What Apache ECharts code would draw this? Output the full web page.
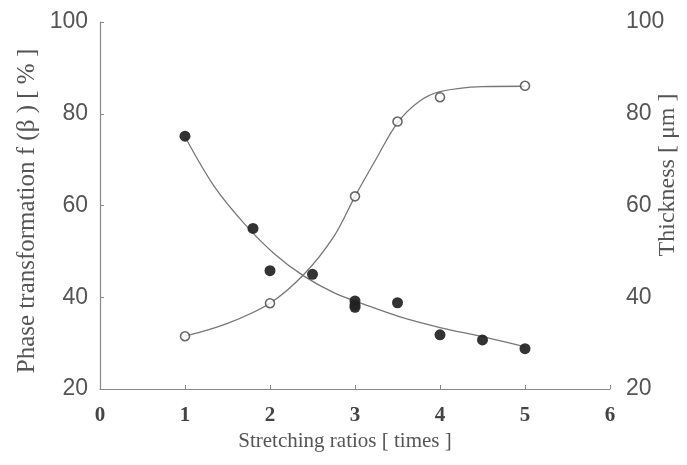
<!DOCTYPE html>
<html>
<head>
<meta charset="utf-8">
<script src="https://cdn.jsdelivr.net/npm/echarts@6/dist/echarts.min.js"></script>
<style>
  html, body { margin: 0; padding: 0; background: #ffffff; }
  #chart { width: 687px; height: 465px; }
</style>
</head>
<body>
<div id="chart"></div>
<script>
// Axis ticks
const xTicks = [0, 1, 2, 3, 4, 5, 6];
const yTicks = [20, 40, 60, 80, 100];

// Phase transformation f(β) [%] — measured points (open circles)
const phaseX = [1, 2, 3, 3.5, 4, 5];
const phaseY = [31.5, 38.7, 62, 78.3, 83.6, 86.1];

// Phase transformation — drawn fit curve
const phaseFitX = [1, 1.5, 2, 2.4, 2.75, 3, 3.25, 3.5, 3.75, 4, 4.5, 5];
const phaseFitY = [31.5, 34.3, 38.7, 45, 53.2, 62, 70.2, 78, 82.6, 84.8, 85.9, 86];

// Thickness [μm] — measured points (filled circles)
const thickX = [1, 1.8, 2, 2.5, 3, 3, 3, 3.5, 4, 4.5, 5];
const thickY = [75.1, 55, 45.8, 45, 39.2, 38.3, 37.8, 38.8, 31.8, 30.7, 28.8];

// Thickness — drawn fit curve
const thickFitX = [1, 1.35, 1.7, 2.05, 2.4, 2.75, 3.1, 3.55, 4, 4.5, 5];
const thickFitY = [75, 64, 56, 49.5, 44.6, 41, 38.5, 35.6, 33.4, 31.4, 29.2];

const zip = (xs, ys) => xs.map((x, i) => [x, ys[i]]);

const serif = '"Liberation Serif", "DejaVu Serif", serif';
const sans = '"Liberation Sans", Arial, sans-serif';

const chart = echarts.init(document.getElementById('chart'), null, { renderer: 'canvas' });

const yAxisCommon = {
  type: 'value',
  min: yTicks[0],
  max: yTicks[yTicks.length - 1],
  interval: 20,
  splitLine: { show: false },
  axisLabel: { fontFamily: sans, fontSize: 23, color: '#555' }
};

chart.setOption({
  backgroundColor: '#ffffff',
  animation: false,
  grid: { left: 100, right: 77, top: 22, bottom: 76 },
  xAxis: {
    type: 'value',
    min: xTicks[0],
    max: xTicks[xTicks.length - 1],
    interval: 1,
    axisLine: { show: true, lineStyle: { color: '#888', width: 1.2 } },
    axisTick: { show: true, inside: true, length: 4, lineStyle: { color: '#888' } },
    splitLine: { show: false },
    axisLabel: { fontFamily: serif, fontSize: 21, fontWeight: 'bold', color: '#444', margin: 16 }
  },
  yAxis: [
    Object.assign({}, yAxisCommon, {
      position: 'left',
      axisLine: { show: true, lineStyle: { color: '#888', width: 1.2 } },
      axisTick: { show: true, inside: true, length: 4, lineStyle: { color: '#888' } },
      axisLabel: Object.assign({}, yAxisCommon.axisLabel, { margin: 12 })
    }),
    Object.assign({}, yAxisCommon, {
      position: 'right',
      axisLine: { show: false },
      axisTick: { show: false },
      axisLabel: Object.assign({}, yAxisCommon.axisLabel, { margin: 16 })
    })
  ],
  series: [
    {
      type: 'line', yAxisIndex: 0, data: zip(phaseFitX, phaseFitY),
      smooth: 0.35, showSymbol: false, silent: true,
      lineStyle: { color: '#777', width: 1.3 }, z: 1
    },
    {
      type: 'line', yAxisIndex: 1, data: zip(thickFitX, thickFitY),
      smooth: 0.35, showSymbol: false, silent: true,
      lineStyle: { color: '#777', width: 1.3 }, z: 1
    },
    {
      type: 'scatter', yAxisIndex: 0, data: zip(phaseX, phaseY),
      symbol: 'circle', symbolSize: 9,
      itemStyle: { color: '#ffffff', borderColor: '#444', borderWidth: 1.6 }, z: 3
    },
    {
      type: 'scatter', yAxisIndex: 1, data: zip(thickX, thickY),
      symbol: 'circle', symbolSize: 11,
      itemStyle: { color: '#222', opacity: 0.92 }, z: 3
    }
  ],
  graphic: [
    {
      type: 'text', x: 27, y: 211, rotation: Math.PI / 2,
      style: {
        text: 'Phase transformation f (β ) [ % ]',
        font: '25px ' + serif, fill: '#555',
        textAlign: 'center', textVerticalAlign: 'middle'
      }
    },
    {
      type: 'text', x: 668, y: 175, rotation: Math.PI / 2,
      style: {
        text: 'Thickness [ μm ]',
        font: '24px ' + serif, fill: '#555',
        textAlign: 'center', textVerticalAlign: 'middle'
      }
    },
    {
      type: 'text', x: 345, y: 441,
      style: {
        text: 'Stretching ratios [ times ]',
        font: '21px ' + serif, fill: '#555',
        textAlign: 'center', textVerticalAlign: 'middle'
      }
    }
  ]
});
</script>
</body>
</html>
